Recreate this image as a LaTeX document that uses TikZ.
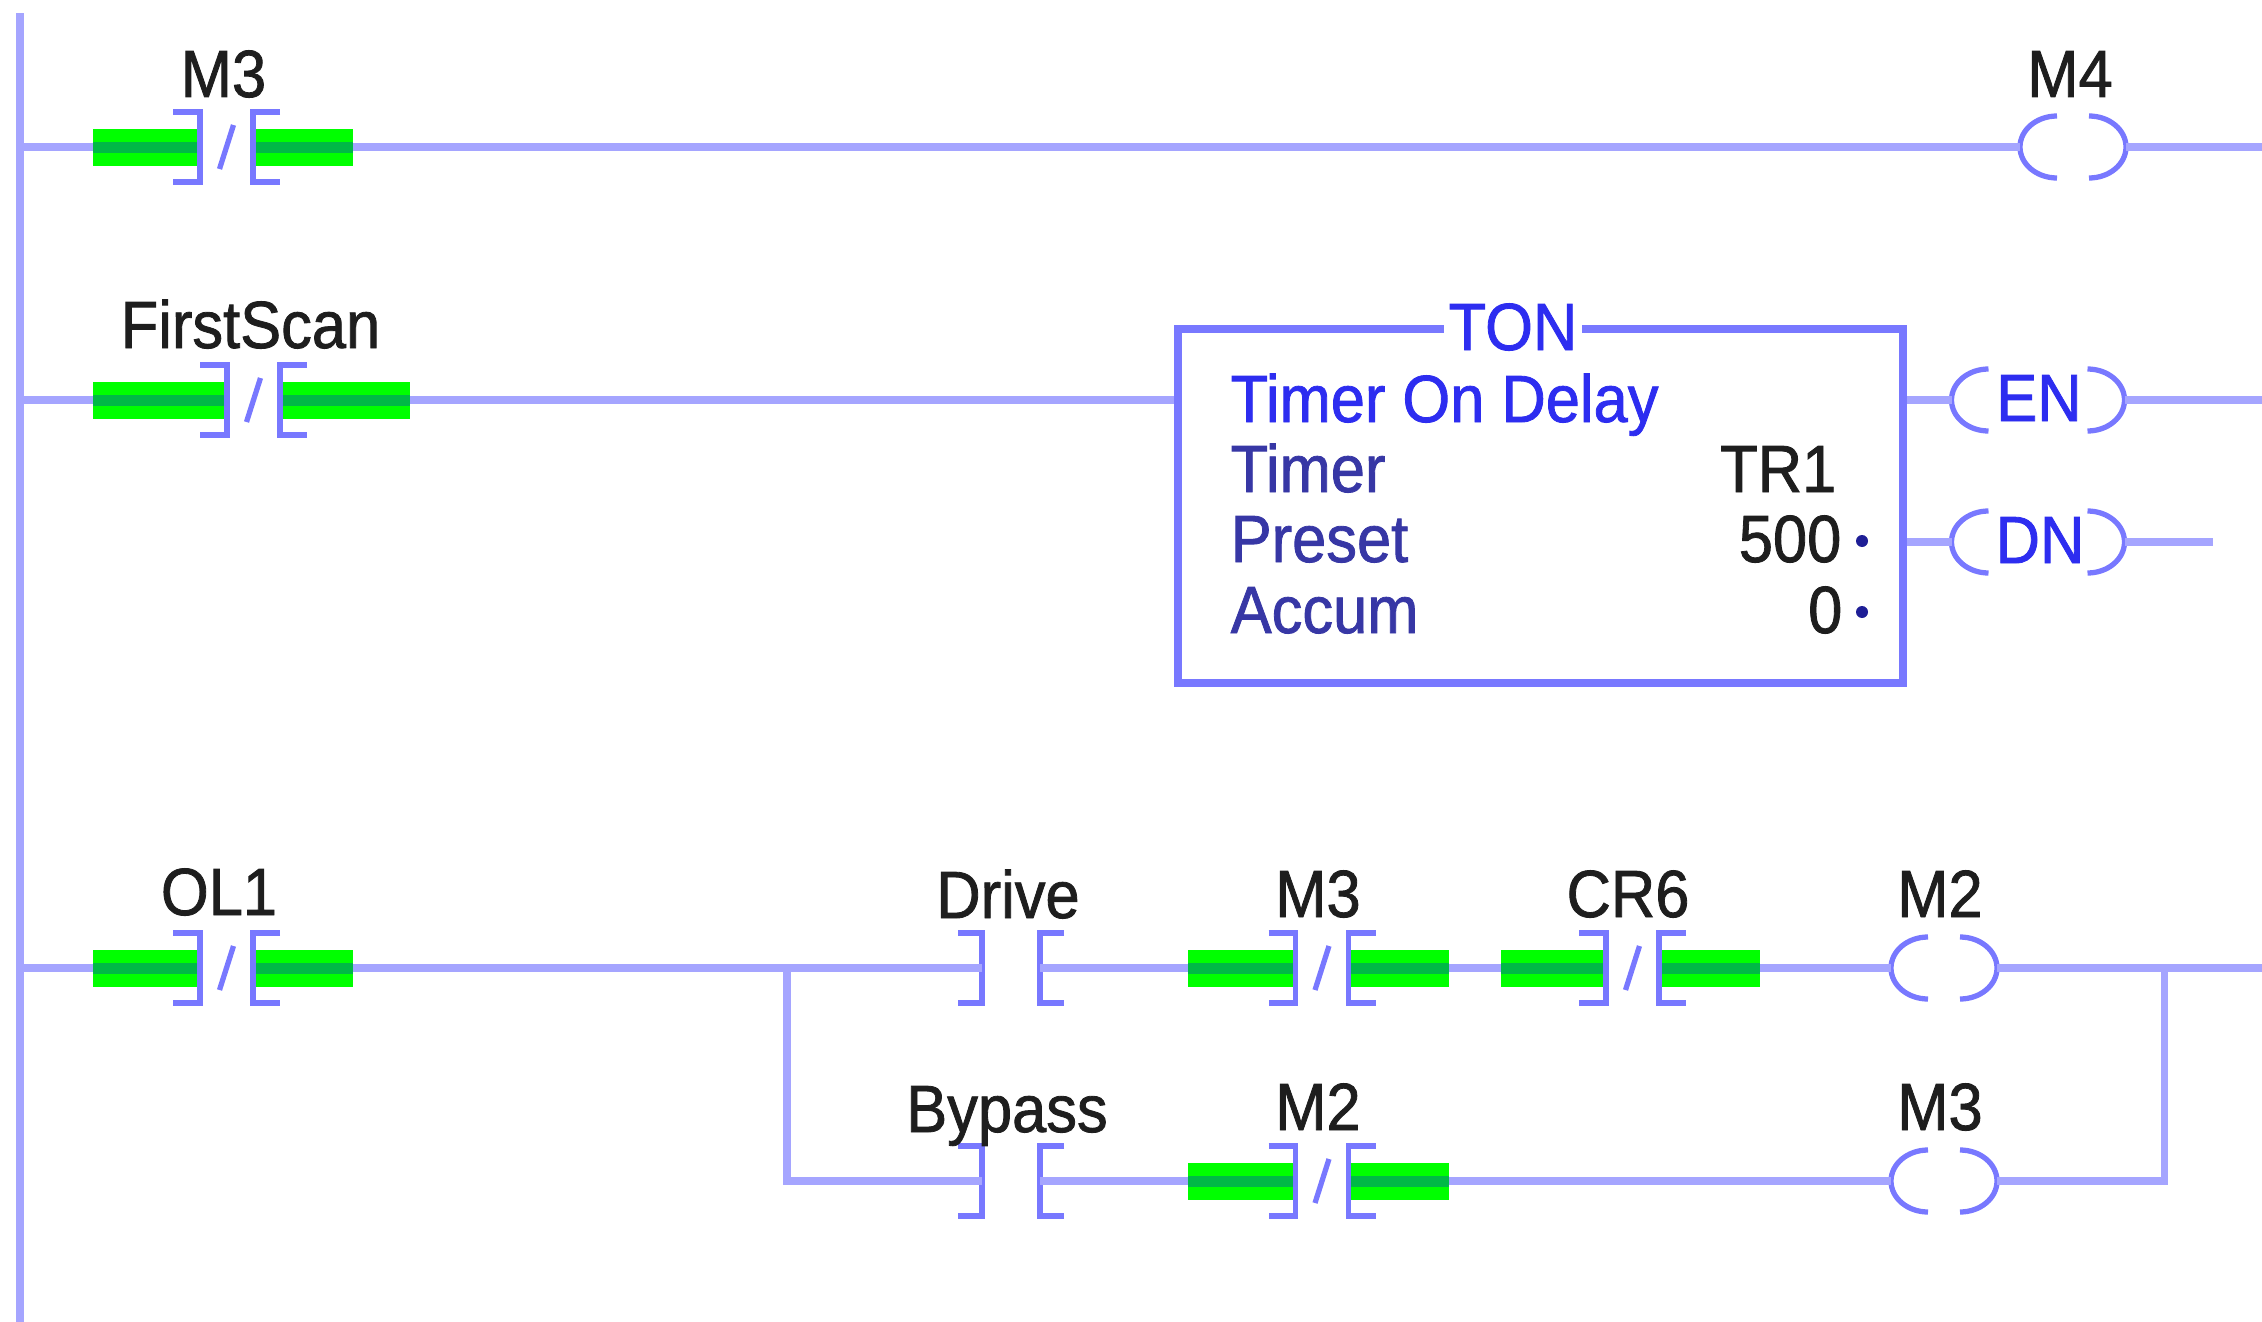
\documentclass[tikz,border=0pt]{standalone}
\usepackage{fontspec}
\setmainfont{Liberation Sans}[FakeStretch=0.92,FakeBold=1.2]
\definecolor{wireblue}{RGB}{165,165,255}
\definecolor{symblue}{RGB}{120,120,255}
\definecolor{litgreen}{RGB}{0,255,0}
\definecolor{litdark}{RGB}{0,185,70}
\definecolor{txtblue}{RGB}{45,45,240}
\definecolor{fldblue}{RGB}{55,55,165}
\definecolor{dotblue}{RGB}{30,30,150}
\definecolor{tagblack}{RGB}{30,30,30}
\tikzset{
	wire/.style={line width=2pt,draw=wireblue},
	sym/.style={line width=1.5pt,draw=symblue},
	tag/.style={anchor=base,text=tagblack,inner sep=0pt},
	blk/.style={anchor=base west,text=txtblue,inner sep=0pt},
	fld/.style={anchor=base west,text=fldblue,inner sep=0pt},
	val/.style={anchor=base east,text=tagblack,inner sep=0pt},
	tonbox/.style={draw=symblue,line width=2pt,minimum width=7.25cm,minimum height=3.54cm,inner sep=0pt},
	pics/nclit/.style 2 args={code={
		\fill[litgreen](-0.265-#1,-0.185) rectangle (-0.265,0.185);
		\fill[litgreen](0.265,-0.185) rectangle (0.265+#2,0.185);
		\fill[litdark](-0.265-#1,-0.055) rectangle (-0.265,0.055);
		\fill[litdark](0.265,-0.055) rectangle (0.265+#2,0.055);
		\draw[sym](-0.535,0.35)--(-0.265,0.35)--(-0.265,-0.35)--(-0.535,-0.35);
		\draw[sym](0.535,0.35)--(0.265,0.35)--(0.265,-0.35)--(0.535,-0.35);
		\draw[sym](-0.07,-0.22)--(0.07,0.22);
		\coordinate(-l) at (-0.265-#1,0);
		\coordinate(-r) at (0.265+#2,0);
	}},
	pics/nocontact/.style={code={
		\draw[sym](-0.53,0.35)--(-0.29,0.35)--(-0.29,-0.35)--(-0.53,-0.35);
		\draw[sym](0.53,0.35)--(0.29,0.35)--(0.29,-0.35)--(0.53,-0.35);
		\coordinate(-l) at (-0.29,0);
		\coordinate(-r) at (0.29,0);
	}},
	pics/outcoil/.style={code={
		\draw[sym](-#1,0.31) arc[start angle=90,end angle=270,x radius=0.37,y radius=0.31];
		\draw[sym](#1,0.31) arc[start angle=90,end angle=-90,x radius=0.37,y radius=0.31];
		\coordinate(-l) at (-#1-0.37,0);
		\coordinate(-r) at (#1+0.37,0);
	}},
}
\begin{document}
\begin{tikzpicture}[font=\fontsize{19}{23}\selectfont]
	\useasboundingbox(0,0) rectangle (22.62,-13.22);
	\draw[wire](0.20,-0.13)--(0.20,-13.22);
	% rung 1
	\coordinate(r1) at (0.20,-1.47);
	\coordinate(e1) at (22.62,-1.47);
	\pic(m3a) at (2.265,-1.47) {nclit={1.07}{1.00}};
	\pic(m4) at (20.73,-1.47) {outcoil=0.16};
	\node[tag](m3atag) at (2.235,-0.97){M3};
	\node[tag](m4tag) at (20.70,-0.97){M4};
	\draw[wire](r1)--(m3a-l);
	\draw[wire](m3a-r)--(m4-l);
	\draw[wire](m4-r)--(e1);
	% rung 2
	\coordinate(r2) at (0.20,-4.00);
	\coordinate(e2) at (22.62,-4.00);
	\coordinate(e3) at (22.13,-5.42);
	\pic(fs) at (2.535,-4.00) {nclit={1.34}{1.30}};
	\node[tag](fstag) at (2.505,-3.48){FirstScan};
	\node[tonbox](ton) at (15.405,-5.06){};
	\node[tag,text=txtblue,fill=white,inner xsep=0.05cm](tontag) at (15.13,-3.50){TON};
	\node[blk](tondesc) at (12.30,-4.22){Timer On Delay};
	\node[fld](tmrf) at (12.30,-4.92){Timer};
	\node[fld](pref) at (12.30,-5.62){Preset};
	\node[fld](accf) at (12.30,-6.33){Accum};
	\node[val](tmrv) at (18.37,-4.92){TR1};
	\node[val](prev) at (18.42,-5.62){500};
	\node[val](accv) at (18.43,-6.33){0};
	\fill[dotblue](18.62,-5.41) circle (0.06);
	\fill[dotblue](18.62,-6.12) circle (0.06);
	\pic(en) at (20.38,-4.00) {outcoil=0.495};
	\pic(dn) at (20.38,-5.42) {outcoil=0.495};
	\node[tag,text=txtblue](entag) at (20.39,-4.21){EN};
	\node[tag,text=txtblue](dntag) at (20.40,-5.63){DN};
	\draw[wire](r2)--(fs-l);
	\draw[wire](fs-r)--(fs-r -| ton.west);
	\draw[wire](en-l -| ton.east)--(en-l);
	\draw[wire](en-r)--(e2);
	\draw[wire](dn-l -| ton.east)--(dn-l);
	\draw[wire](dn-r)--(e3);
	% rung 3
	\coordinate(r3) at (0.20,-9.68);
	\coordinate(br) at (7.87,-9.68);
	\coordinate(bm) at (21.64,-9.68);
	\coordinate(e4) at (22.62,-9.68);
	\pic(ol1) at (2.265,-9.68) {nclit={1.07}{1.00}};
	\pic(drv) at (10.11,-9.68) {nocontact};
	\pic(m3b) at (13.22,-9.68) {nclit={1.075}{1.005}};
	\pic(cr6) at (16.325,-9.68) {nclit={1.05}{1.01}};
	\pic(m2) at (19.44,-9.68) {outcoil=0.16};
	\node[tag](ol1tag) at (2.19,-9.15){OL1};
	\node[tag](drvtag) at (10.08,-9.18){Drive};
	\node[tag](m3btag) at (13.18,-9.17){M3};
	\node[tag](cr6tag) at (16.28,-9.17){CR6};
	\node[tag](m2tag) at (19.40,-9.17){M2};
	\draw[wire](r3)--(ol1-l);
	\draw[wire](ol1-r)--(drv-l);
	\draw[wire](drv-r)--(m3b-l);
	\draw[wire](m3b-r)--(cr6-l);
	\draw[wire](cr6-r)--(m2-l);
	\draw[wire](m2-r)--(e4);
	% branch
	\pic(byp) at (10.11,-11.81) {nocontact};
	\pic(m2b) at (13.22,-11.81) {nclit={1.075}{1.005}};
	\pic(m3c) at (19.44,-11.81) {outcoil=0.16};
	\node[tag](byptag) at (10.07,-11.32){Bypass};
	\node[tag](m2btag) at (13.18,-11.30){M2};
	\node[tag](m3ctag) at (19.40,-11.30){M3};
	\draw[wire](br)|-(byp-l);
	\draw[wire](byp-r)--(m2b-l);
	\draw[wire](m2b-r)--(m3c-l);
	\draw[wire](m3c-r)-|(bm);
\end{tikzpicture}
\end{document}
